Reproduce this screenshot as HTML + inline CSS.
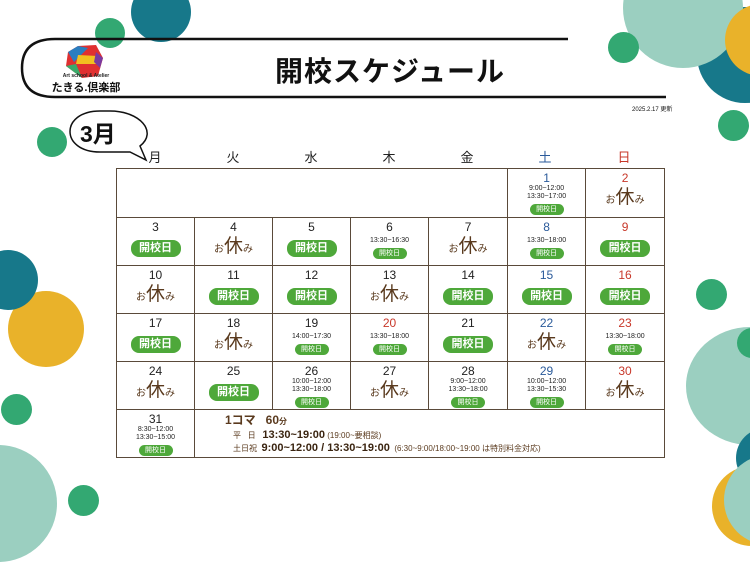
<!DOCTYPE html>
<html><head><meta charset="utf-8"><style>
*{margin:0;padding:0;box-sizing:border-box}
body{width:750px;height:530px;background:#fff;position:relative;overflow:hidden;font-family:"Liberation Sans","Noto Sans CJK JP",sans-serif;color:#222}
.c{position:absolute;border-radius:50%}
.ab{position:absolute}
table{position:absolute;left:116px;top:168px;width:548px;border-collapse:collapse;table-layout:fixed;border:1.5px solid #5a4a3a}
td{border:1px solid #5a4a3a;text-align:center;vertical-align:top;padding-top:3px;font-size:12px;line-height:13px;color:#222;height:48px}
.p{display:inline-block;background:#4ea83a;color:#fff;font-weight:bold;font-size:11px;width:50px;height:17px;line-height:17px;border-radius:8px;margin-top:6px}
.s{display:inline-block;background:#4ea83a;color:#fff;font-size:7px;width:34px;height:11px;line-height:11px;border-radius:6px}
.t{font-size:7px;line-height:8px;display:block}
.y{font-size:10px;color:#5a3a1e;display:inline-block;margin-top:2px}
.y b{font-size:19px;font-weight:normal;line-height:22px}
.bl{color:#2a5a9a}.rd{color:#c8382a}
.dh{position:absolute;top:147px;font-size:13px;width:40px;text-align:center}
</style></head><body>
<div class="c" style="left:697px;top:7px;width:96px;height:96px;background:#17788a"></div>
<div class="c" style="left:623px;top:-52px;width:120px;height:120px;background:#9bcfc0"></div>
<div class="c" style="left:725px;top:4px;width:72px;height:72px;background:#e9b22a"></div>
<div class="c" style="left:608px;top:32px;width:31px;height:31px;background:#33a872"></div>
<div class="c" style="left:718px;top:110px;width:31px;height:31px;background:#33a872"></div>
<div class="c" style="left:131px;top:-18px;width:60px;height:60px;background:#17788a"></div>
<div class="c" style="left:95px;top:18px;width:30px;height:30px;background:#33a872"></div>
<div class="c" style="left:37px;top:127px;width:30px;height:30px;background:#33a872"></div>
<div class="c" style="left:8px;top:291px;width:76px;height:76px;background:#e9b22a"></div>
<div class="c" style="left:-22px;top:250px;width:60px;height:60px;background:#17788a"></div>
<div class="c" style="left:1px;top:394px;width:31px;height:31px;background:#33a872"></div>
<div class="c" style="left:-60px;top:445px;width:117px;height:117px;background:#9bcfc0"></div>
<div class="c" style="left:68px;top:485px;width:31px;height:31px;background:#33a872"></div>
<div class="c" style="left:696px;top:279px;width:31px;height:31px;background:#33a872"></div>
<div class="c" style="left:686px;top:327px;width:128px;height:118px;background:#9bcfc0"></div>
<div class="c" style="left:737px;top:328px;width:30px;height:30px;background:#33a872"></div>
<div class="c" style="left:736px;top:428px;width:60px;height:60px;background:#17788a"></div>
<div class="c" style="left:712px;top:466px;width:80px;height:80px;background:#e9b22a"></div>
<div class="c" style="left:724px;top:455px;width:90px;height:90px;background:#9bcfc0"></div>

<svg class="ab" style="left:0;top:0" width="750" height="530">
<path d="M568 39 H55 Q22 39 22 68 Q22 97 55 97 H666" fill="none" stroke="#111" stroke-width="2.5"/>
<polygon points="78,46 96,45 103,58 98,76 82,78 66,66 68,52" fill="#e03030"/>
<polygon points="68,52 78,46 88,48 74,62" fill="#2a7ec0"/>
<polygon points="78,55 98,56 96,64 76,64" fill="#f2c020"/>
<polygon points="96,52 103,58 100,68 94,62" fill="#7a3aa0"/>
<polygon points="66,66 76,64 82,78" fill="#3aaa6a"/>
<path d="M100 111 C60 111 60 152 100 152 L130 152 L146 160 L140 146 C158 132 140 111 110 111 Z" fill="#fff" stroke="#111" stroke-width="1.5"/>
</svg>
<div class="ab" style="left:47px;top:73px;font-size:5px;font-weight:bold;width:78px;text-align:center">Art school &amp; Atelier</div>
<div class="ab" style="left:46px;top:79px;font-size:11px;font-weight:bold;color:#111;width:80px;text-align:center">たきる.倶楽部</div>
<div class="ab" style="left:250px;top:50px;width:280px;text-align:center;font-size:28px;font-weight:bold;color:#111;letter-spacing:1px">開校スケジュール</div>
<div class="ab" style="left:632px;top:104px;font-size:6px;color:#111">2025.2.17 更新</div>
<div class="ab" style="left:80px;top:115px;font-size:23px;font-weight:bold;color:#111">3月</div>

<div class="dh" style="left:135px">月</div><div class="dh" style="left:213px">火</div><div class="dh" style="left:291px">水</div><div class="dh" style="left:369px">木</div><div class="dh" style="left:447px">金</div><div class="dh bl" style="left:525px">土</div><div class="dh rd" style="left:604px">日</div>

<table>
<colgroup><col style="width:78px"><col style="width:78px"><col style="width:78px"><col style="width:78px"><col style="width:79px"><col style="width:78px"><col style="width:79px"></colgroup>
<tr><td colspan="5" style="height:49px"></td>
<td><span class="bl">1</span><span class="t">9:00~12:00</span><span class="t">13:30~17:00</span><span class="s">開校日</span></td>
<td><span class="rd">2</span><br><span class="y">お<b>休</b>み</span></td></tr>
<tr><td>3<br><span class="p">開校日</span></td><td>4<br><span class="y">お<b>休</b>み</span></td><td>5<br><span class="p">開校日</span></td>
<td>6<br><span class="t" style="margin-top:3px">13:30~16:30</span><span class="s">開校日</span></td><td>7<br><span class="y">お<b>休</b>み</span></td>
<td><span class="bl">8</span><br><span class="t" style="margin-top:3px">13:30~18:00</span><span class="s">開校日</span></td><td><span class="rd">9</span><br><span class="p">開校日</span></td></tr>
<tr><td>10<br><span class="y">お<b>休</b>み</span></td><td>11<br><span class="p">開校日</span></td><td>12<br><span class="p">開校日</span></td><td>13<br><span class="y">お<b>休</b>み</span></td><td>14<br><span class="p">開校日</span></td><td><span class="bl">15</span><br><span class="p">開校日</span></td><td><span class="rd">16</span><br><span class="p">開校日</span></td></tr>
<tr><td>17<br><span class="p">開校日</span></td><td>18<br><span class="y">お<b>休</b>み</span></td>
<td>19<br><span class="t" style="margin-top:3px">14:00~17:30</span><span class="s">開校日</span></td>
<td><span class="rd">20</span><br><span class="t" style="margin-top:3px">13:30~18:00</span><span class="s">開校日</span></td>
<td>21<br><span class="p">開校日</span></td><td><span class="bl">22</span><br><span class="y">お<b>休</b>み</span></td>
<td><span class="rd">23</span><br><span class="t" style="margin-top:3px">13:30~18:00</span><span class="s">開校日</span></td></tr>
<tr><td>24<br><span class="y">お<b>休</b>み</span></td><td>25<br><span class="p">開校日</span></td>
<td>26<span class="t">10:00~12:00</span><span class="t">13:30~18:00</span><span class="s">開校日</span></td>
<td>27<br><span class="y">お<b>休</b>み</span></td>
<td>28<span class="t">9:00~12:00</span><span class="t">13:30~18:00</span><span class="s">開校日</span></td>
<td><span class="bl">29</span><span class="t">10:00~12:00</span><span class="t">13:30~15:30</span><span class="s">開校日</span></td>
<td><span class="rd">30</span><br><span class="y">お<b>休</b>み</span></td></tr>
<tr><td>31<span class="t">8:30~12:00</span><span class="t">13:30~15:00</span><span class="s">開校日</span></td>
<td colspan="6" style="text-align:left;padding-left:30px;color:#5a3a1e">
<div style="font-size:12px;font-weight:bold;line-height:15px">1コマ&nbsp;&nbsp;&nbsp;60<span style="font-size:8px">分</span></div>
<div style="font-size:8px;line-height:13px;padding-left:8px">平&nbsp;&nbsp;&nbsp;日&nbsp;&nbsp;&nbsp;<b style="font-size:11px;color:#3a2410">13:30~19:00</b>&nbsp;(19:00~要相談)</div>
<div style="font-size:8px;line-height:13px;padding-left:8px">土日祝&nbsp;&nbsp;<b style="font-size:11px;color:#3a2410">9:00~12:00 / 13:30~19:00</b>&nbsp;&nbsp;(6:30~9:00/18:00~19:00 は特別料金対応)</div>
</td></tr>
</table>
</body></html>
